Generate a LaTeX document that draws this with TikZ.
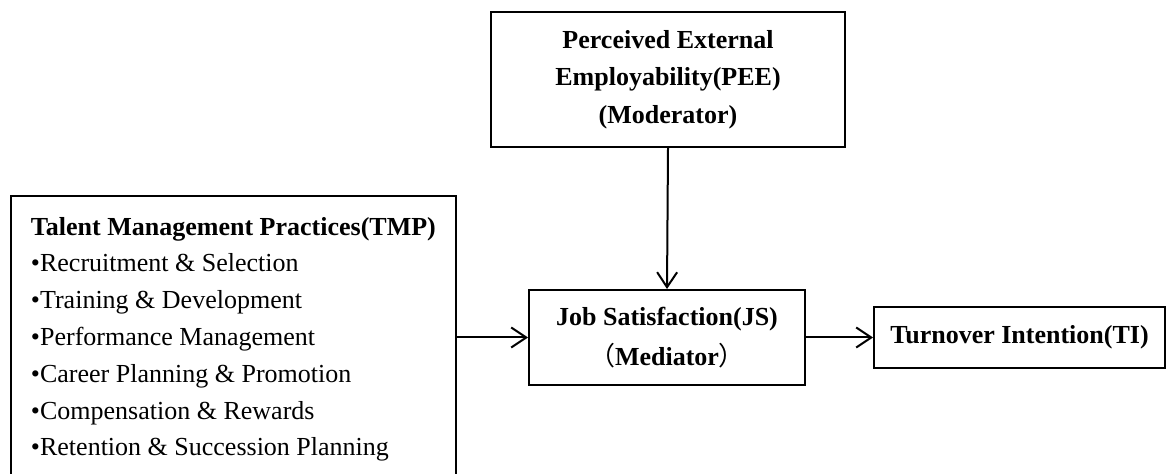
\documentclass[tikz,border=0pt]{standalone}
\usepackage{fontspec}
\setmainfont{Liberation Serif}
\newfontfamily\cjk{Noto Sans CJK SC}
\usetikzlibrary{positioning, arrows.meta}

\begin{document}
\begin{tikzpicture}[
    x=0.5pt, y=-0.5pt,
    box/.style={draw, line width=1pt, align=center, inner sep=0pt,
                font=\fontsize{13}{18.75}\selectfont\bfseries},
    arw/.style={-{Straight Barb[length=7.5pt, width=10pt]}, line width=1pt},
]
\useasboundingbox (0,0) rectangle (1166,474);

\node[box, minimum width=177pt, minimum height=67.5pt] (pee) at (668,79.5)
    {Perceived External\\Employability(PEE)\\(Moderator)};
\node[box, minimum width=138pt, minimum height=47.5pt,
      font=\fontsize{13}{20}\selectfont\bfseries] (js) at (667,337.5)
    {Job Satisfaction(JS)\\{\cjk\mdseries （}Mediator{\cjk\mdseries ）}};
\node[box, minimum width=145.5pt, minimum height=30.5pt] (ti) at (1019.5,337.5)
    {Turnover Intention(TI)};
\node[box, anchor=north west, align=left,
      inner xsep=10pt, inner ysep=10.5pt,
      font=\fontsize{13}{18.4}\selectfont] (tmp) at (10,195)
    {\textbf{Talent Management Practices(TMP)}\\
     •Recruitment \& Selection\\
     •Training \& Development\\
     •Performance Management\\
     •Career Planning \& Promotion\\
     •Compensation \& Rewards\\
     •Retention \& Succession Planning};

\foreach \a/\b in {pee.south/js.north, js.east/ti.west}
    \draw[arw] (\a) -- (\b);
\draw[arw] (tmp.east |- js.west) -- (js.west);
\end{tikzpicture}
\end{document}
